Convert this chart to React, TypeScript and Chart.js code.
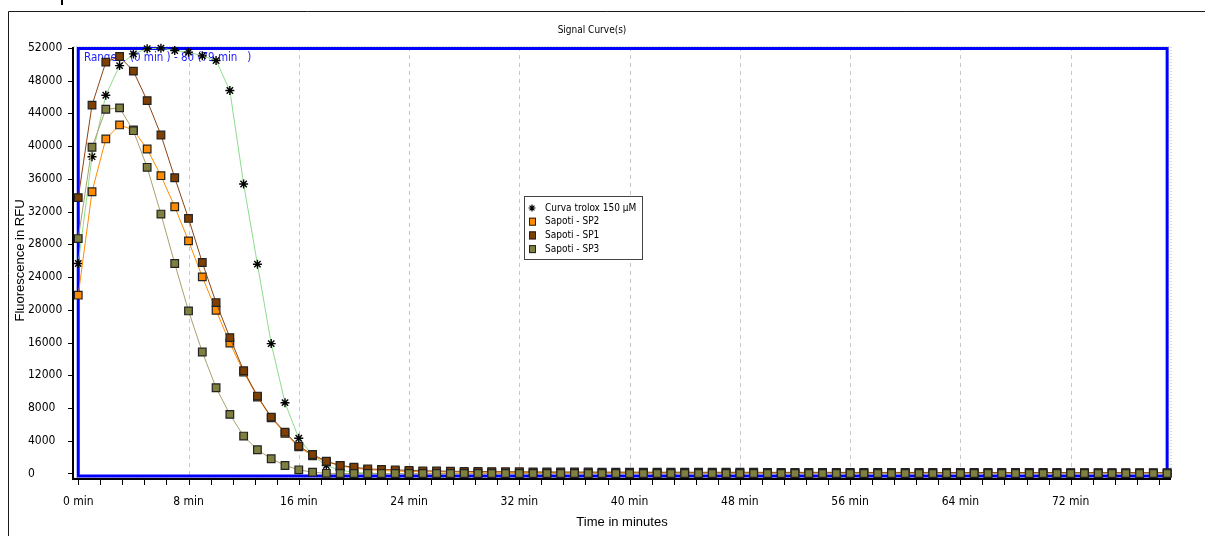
import React, { useEffect, useRef } from "react";
import { Chart, registerables } from "chart.js";

Chart.register(...registerables);

const FONT = "'Liberation Sans', Arial, sans-serif";
const TFONT = "'DejaVu Sans Condensed', 'DejaVu Sans', sans-serif";

const minutes = [
  0, 1, 2, 3, 4, 5, 6, 7, 8, 9,
  10, 11, 12, 13, 14, 15, 16, 17, 18, 19,
  20, 21, 22, 23, 24, 25, 26, 27, 28, 29,
  30, 31, 32, 33, 34, 35, 36, 37, 38, 39,
  40, 41, 42, 43, 44, 45, 46, 47, 48, 49,
  50, 51, 52, 53, 54, 55, 56, 57, 58, 59,
  60, 61, 62, 63, 64, 65, 66, 67, 68, 69,
  70, 71, 72, 73, 74, 75, 76, 77, 78, 79,
];

const troloxValues = [
  25650, 38700, 46200, 49830, 51260, 51880, 51960, 51670, 51470, 51020,
  50450, 46780, 35360, 25570, 15870, 8650, 4300, 2200, 980, 400,
  150, 50, 0, 0, 0, 0, 0, 0, 0, 0,
  0, 0, 0, 0, 0, 0, 0, 0, 0, 0,
  0, 0, 0, 0, 0, 0, 0, 0, 0, 0,
  0, 0, 0, 0, 0, 0, 0, 0, 0, 0,
  0, 0, 0, 0, 0, 0, 0, 0, 0, 0,
  0, 0, 0, 0, 0, 0, 0, 0, 0, 0,
];

const sp2Values = [
  21780, 34420, 40870, 42580, 41970, 39640, 36380, 32580, 28420, 24020,
  19940, 15940, 12400, 9350, 6800, 4900, 3250, 2150, 1450, 950,
  650, 480, 370, 300, 250, 210, 190, 170, 160, 150,
  150, 140, 130, 130, 120, 120, 110, 110, 110, 100,
  100, 100, 100, 90, 90, 90, 90, 90, 80, 80,
  80, 80, 80, 80, 80, 70, 70, 70, 70, 70,
  70, 70, 70, 70, 60, 60, 60, 60, 60, 60,
  60, 60, 60, 60, 60, 60, 50, 50, 50, 50,
];

const sp1Values = [
  33700, 45000, 50250, 50940, 49150, 45550, 41350, 36130, 31160, 25780,
  20880, 16600, 12560, 9460, 6890, 5050, 3340, 2320, 1500, 980,
  770, 570, 490, 450, 380, 330, 300, 280, 260, 240,
  230, 220, 210, 200, 190, 190, 180, 180, 170, 170,
  170, 160, 160, 160, 160, 150, 150, 150, 150, 150,
  140, 140, 140, 140, 140, 140, 130, 130, 130, 130,
  130, 130, 130, 120, 120, 120, 120, 120, 120, 120,
  120, 120, 110, 110, 110, 110, 110, 110, 110, 110,
];

const sp3Values = [
  28700, 39850, 44500, 44660, 41880, 37400, 31690, 25650, 19860, 14840,
  10480, 7220, 4570, 2900, 1800, 980, 450, 160, 20, 0,
  0, 0, 0, 0, 0, 0, 0, 0, 0, 0,
  0, 0, 0, 0, 0, 0, 0, 0, 0, 0,
  0, 0, 0, 0, 0, 0, 0, 0, 0, 0,
  0, 0, 0, 0, 0, 0, 0, 0, 0, 0,
  0, 0, 0, 0, 0, 0, 0, 0, 0, 0,
  0, 0, 0, 0, 0, 0, 0, 0, 0, 0,
];

const xTickValues = [0, 8, 16, 24, 32, 40, 48, 56, 64, 72];
const yTickValues = [0, 4000, 8000, 12000, 16000, 20000, 24000, 28000, 32000, 36000, 40000, 44000, 48000, 52000];

const seriesLabels = ["Curva trolox 150 µM", "Sapoti - SP2", "Sapoti - SP1", "Sapoti - SP3"];
const rangeStart = 0;
const rangeEnd = 79;
const rangeText = "Range 1 (0 min ) - 80 (79 min   )";

const toPoints = (vals: number[]) => minutes.map((m, i) => ({ x: m, y: vals[i] }));

const decorPlugin = {
  id: "decor",
  beforeDraw(chart: any) {
    const { ctx, width, height, chartArea: ca } = chart;
    ctx.save();
    ctx.fillStyle = "#ffffff";
    ctx.fillRect(0, 0, width, height);
    ctx.strokeStyle = "#1a1a1a";
    ctx.lineWidth = 1;
    ctx.beginPath();
    ctx.moveTo(8.5, height);
    ctx.lineTo(8.5, 11.5);
    ctx.lineTo(width, 11.5);
    ctx.stroke();
    ctx.fillStyle = "#000";
    ctx.fillRect(61, 0, 2, 5);
    ctx.fillStyle = "#000";
    ctx.font = `10px ${TFONT}`;
    ctx.textAlign = "center";
    ctx.textBaseline = "middle";
    ctx.fillText("Signal Curve(s)", 592, 30);
    ctx.translate(20, (ca.top + ca.bottom) / 2 - 2);
    ctx.rotate(-Math.PI / 2);
    ctx.font = `13px ${FONT}`;
    ctx.fillText("Fluorescence in RFU", 0, 0);
    ctx.restore();
  },
  beforeDatasetsDraw(chart: any) {
    const { ctx, chartArea: ca, scales } = chart;
    const x = scales.x;
    const y = scales.y;
    ctx.save();
    ctx.strokeStyle = "#b4b4b4";
    ctx.lineWidth = 1;
    ctx.setLineDash([1, 2]);
    ctx.strokeRect(ca.left + 0.5, ca.top - 0.5, ca.right - ca.left - 0.5, ca.bottom - ca.top);
    ctx.strokeStyle = "#c8c8c8";
    ctx.setLineDash([4, 4]);
    for (const t of x.ticks) {
      if (t.value === 0) continue;
      const px = Math.round(x.getPixelForValue(t.value)) + 0.5;
      ctx.beginPath();
      ctx.moveTo(px, ca.top);
      ctx.lineTo(px, ca.bottom);
      ctx.stroke();
    }
    ctx.setLineDash([]);
    const x0 = x.getPixelForValue(rangeStart);
    const x1 = x.getPixelForValue(rangeEnd);
    ctx.strokeStyle = "#0000ff";
    ctx.lineWidth = 3;
    const top = ca.top + 1.5;
    const bot = ca.bottom - 2;
    ctx.strokeRect(x0, top, x1 - x0, bot - top);
    ctx.fillStyle = "#1c1cff";
    ctx.font = `11.5px ${TFONT}`;
    ctx.textAlign = "left";
    ctx.textBaseline = "middle";
    ctx.fillText(rangeText, 84, 58);
    ctx.fillStyle = "#000";
    ctx.fillRect(ca.left - 1, ca.top, 2, ca.bottom + 2 - ca.top);
    ctx.fillRect(ca.left - 1, ca.bottom, ca.right - ca.left + 1, 2);
    ctx.strokeStyle = "#000";
    ctx.lineWidth = 1;
    for (const t of y.ticks) {
      const py = Math.round(y.getPixelForValue(t.value)) + 0.5;
      ctx.beginPath();
      ctx.moveTo(ca.left - 5, py);
      ctx.lineTo(ca.left - 1, py);
      ctx.stroke();
    }
    for (let k = 0; k * 1.6 <= x.max; k++) {
      const px = Math.round(x.getPixelForValue(k * 1.6)) + 0.5;
      ctx.beginPath();
      ctx.moveTo(px, ca.bottom + 2);
      ctx.lineTo(px, ca.bottom + 7);
      ctx.stroke();
    }
    ctx.restore();
  },
  afterDatasetsDraw(chart: any) {
    const { ctx } = chart;
    ctx.save();
    const lx = 524, ly = 196, lw = 118, lh = 63;
    ctx.fillStyle = "#fff";
    ctx.fillRect(lx, ly, lw, lh);
    ctx.strokeStyle = "#444";
    ctx.lineWidth = 1;
    ctx.strokeRect(lx + 0.5, ly + 0.5, lw, lh);
    chart.data.datasets.forEach((ds: any, i: number) => {
      const cy = 208 + i * 13.7;
      const cx = 532;
      if (ds.pointStyle === "star") {
        ctx.strokeStyle = "#000";
        ctx.lineWidth = 1.2;
        const r = 3.5;
        ctx.beginPath();
        ctx.moveTo(cx - r, cy); ctx.lineTo(cx + r, cy);
        ctx.moveTo(cx, cy - r); ctx.lineTo(cx, cy + r);
        ctx.moveTo(cx - r * 0.7, cy - r * 0.7); ctx.lineTo(cx + r * 0.7, cy + r * 0.7);
        ctx.moveTo(cx - r * 0.7, cy + r * 0.7); ctx.lineTo(cx + r * 0.7, cy - r * 0.7);
        ctx.stroke();
      } else {
        ctx.fillStyle = ds.pointBackgroundColor;
        ctx.fillRect(cx - 3, cy - 4, 7, 8);
        ctx.strokeStyle = "#222";
        ctx.lineWidth = 1;
        ctx.strokeRect(cx - 3 + 0.5, cy - 4 + 0.5, 6, 7);
      }
      ctx.fillStyle = "#000";
      ctx.font = `10px ${TFONT}`;
      ctx.textAlign = "left";
      ctx.textBaseline = "middle";
      ctx.fillText(ds.label, 545, cy);
    });
    ctx.restore();
  },
};

export default function App() {
  const ref = useRef<HTMLCanvasElement | null>(null);
  useEffect(() => {
    if (!ref.current) return;
    const square = (fill: string) => ({
      pointStyle: "rect",
      pointRadius: 5.4,
      pointBorderColor: "#222",
      pointBackgroundColor: fill,
      pointBorderWidth: 1.2,
    });
    const chart = new Chart(ref.current, {
      type: "line",
      data: {
        datasets: [
          {
            label: seriesLabels[0],
            data: toPoints(troloxValues),
            borderColor: "#8fdc8f",
            borderWidth: 1,
            pointStyle: "star",
            pointRadius: 4.5,
            pointBorderColor: "#000",
            pointBackgroundColor: "#000",
            pointBorderWidth: 1.4,
            tension: 0,
            order: 4,
            clip: false,
          } as any,
          {
            label: seriesLabels[1],
            data: toPoints(sp2Values),
            borderColor: "#ff8c00",
            borderWidth: 1,
            ...square("#ff8c00"),
            tension: 0,
            order: 3,
            clip: false,
          },
          {
            label: seriesLabels[2],
            data: toPoints(sp1Values),
            borderColor: "#8b4513",
            borderWidth: 1,
            ...square("#7f3f00"),
            tension: 0,
            order: 2,
            clip: false,
          },
          {
            label: seriesLabels[3],
            data: toPoints(sp3Values),
            borderColor: "#a8a070",
            borderWidth: 1,
            ...square("#7f7f3f"),
            tension: 0,
            order: 1,
            clip: false,
          },
        ],
      },
      options: {
        responsive: false,
        animation: false,
        events: [],
        layout: { padding: { left: 28, right: 34, top: 47, bottom: 0 } },
        plugins: {
          legend: { display: false },
          title: { display: false },
          tooltip: { enabled: false },
        },
        scales: {
          x: {
            type: "linear",
            min: -0.38,
            max: 79.28,
            afterBuildTicks: (s: any) => {
              s.ticks = xTickValues.map((v) => ({ value: v }));
            },
            afterFit: (s: any) => {
              s.height = 58;
            },
            ticks: {
              color: "#000",
              font: { family: TFONT, size: 12 },
              padding: 17,
              maxRotation: 0,
              autoSkip: false,
              callback: (v: any) => `${v} min`,
            },
            grid: { display: false, drawTicks: false },
            border: { display: false },
            title: {
              display: true,
              text: "Time in minutes",
              color: "#000",
              font: { family: FONT, size: 13 },
              padding: { top: 0, bottom: 6 },
            },
          },
          y: {
            type: "linear",
            min: -550,
            max: 52100,
            afterBuildTicks: (s: any) => {
              s.ticks = yTickValues.map((v) => ({ value: v }));
            },
            afterFit: (s: any) => {
              s.width = 45;
            },
            ticks: {
              color: "#000",
              font: { family: TFONT, size: 12 },
              padding: 10,
              crossAlign: "far",
              autoSkip: false,
              callback: (v: any) => String(v),
            },
            grid: { display: false, drawTicks: false },
            border: { display: false },
          },
        },
      },
      plugins: [decorPlugin],
    });
    return () => chart.destroy();
  }, []);
  return (
    <div style={{ position: "absolute", left: 0, top: 0, width: 1205, height: 536 }}>
      <canvas ref={ref} width={1205} height={536} style={{ display: "block", width: 1205, height: 536 }} />
    </div>
  );
}
